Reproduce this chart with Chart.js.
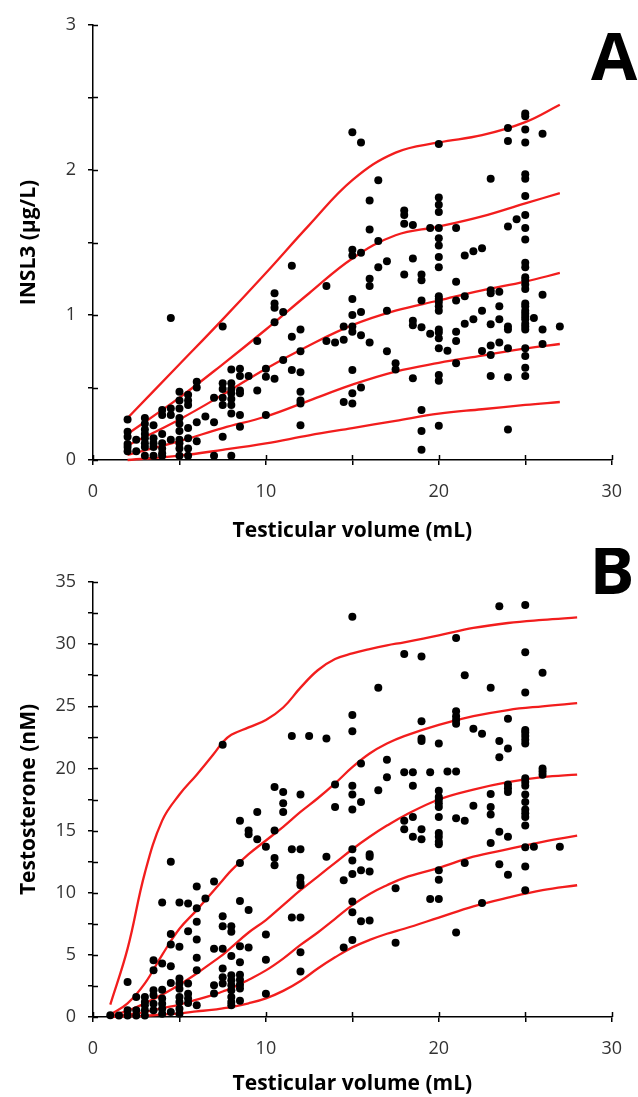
<!DOCTYPE html>
<html><head><meta charset="utf-8">
<script src="https://cdn.jsdelivr.net/npm/chart.js@4.4.0/dist/chart.umd.min.js"></script>
<style>
html,body{margin:0;padding:0;background:#fff;overflow:hidden;}
canvas{position:absolute;left:0;display:block;}
#cA{top:0;}
#cB{top:548px;}
</style></head><body>
<canvas id="cA" width="638" height="548"></canvas>
<canvas id="cB" width="638" height="549"></canvas>
<script>
// ---------------- Panel A: INSL3 vs testicular volume ----------------
const volumesA = [2, 2.5, 3, 3.5, 4, 4.5, 5, 5.5, 6, 6.5, 7, 7.5, 8, 8.5, 9, 9.5, 10, 10.5, 11, 11.5, 12, 13.5, 14, 14.5, 15, 15.5, 16, 16.5, 17, 17.5, 18, 18.5, 19, 19.5, 20, 20.5, 21, 21.5, 22, 22.5, 23, 23.5, 24, 24.5, 25, 25.5, 26, 27];
const insl3A = [
  [0.28, 0.195, 0.16, 0.11, 0.09, 0.06],
  [0.14, 0.06],
  [0.29, 0.25, 0.21, 0.18, 0.15, 0.115, 0.09, 0.03],
  [0.24, 0.15, 0.115, 0.09, 0.03],
  [0.345, 0.31, 0.18, 0.115, 0.08, 0.046, 0.03],
  [0.98, 0.356, 0.31, 0.14],
  [0.47, 0.41, 0.356, 0.29, 0.25, 0.2, 0.14, 0.115, 0.08, 0.03],
  [0.45, 0.41, 0.38, 0.22, 0.15, 0.08, 0.03],
  [0.54, 0.5, 0.26, 0.13],
  [0.3],
  [0.43, 0.26, 0.03],
  [0.92, 0.53, 0.49, 0.43, 0.38, 0.16],
  [0.625, 0.53, 0.49, 0.46, 0.42, 0.38, 0.32, 0.03],
  [0.63, 0.58, 0.48, 0.46, 0.31, 0.23],
  [0.58],
  [0.82, 0.48],
  [0.63, 0.575, 0.31],
  [1.15, 1.08, 1.05, 0.95, 0.56],
  [1.02, 0.69],
  [1.34, 0.85, 0.62],
  [0.9, 0.75, 0.605, 0.47, 0.41, 0.39, 0.24],
  [1.2, 0.82],
  [0.81],
  [0.92, 0.83, 0.4],
  [2.26, 1.45, 1.41, 1.11, 1.0, 0.92, 0.885, 0.62, 0.46, 0.39],
  [2.19, 1.43, 1.02, 0.86, 0.5],
  [1.79, 1.59, 1.25, 1.2, 0.81],
  [1.93, 1.51, 1.33],
  [1.37, 1.03, 0.75],
  [0.667, 0.625],
  [1.72, 1.69, 1.63, 1.28],
  [1.62, 1.39, 0.96, 0.93, 0.563],
  [1.28, 1.24, 1.1, 0.915, 0.345, 0.2, 0.07],
  [1.6, 0.87],
  [2.18, 1.81, 1.76, 1.71, 1.6, 1.53, 1.48, 1.4, 1.33, 1.13, 1.11, 1.09, 1.06, 1.03, 0.9, 0.88, 0.84, 0.77, 0.586, 0.547, 0.237],
  [0.754],
  [1.6, 1.23, 1.1, 0.885, 0.82, 0.667],
  [1.41, 1.13, 0.94],
  [1.44, 0.97],
  [1.46, 1.03, 0.752],
  [1.94, 1.17, 1.15, 0.936, 0.79, 0.724, 0.58],
  [1.16, 1.06, 0.97, 0.81],
  [2.29, 2.2, 1.61, 0.92, 0.9, 0.77, 0.57, 0.21],
  [1.66],
  [2.39, 2.37, 2.28, 2.19, 1.97, 1.94, 1.82, 1.69, 1.6, 1.52, 1.36, 1.33, 1.26, 1.24, 1.21, 1.18, 1.08, 1.06, 1.03, 1.01, 0.99, 0.97, 0.94, 0.92, 0.9, 0.77, 0.717, 0.637, 0.58],
  [0.98],
  [2.25, 1.14, 0.9, 0.8],
  [0.92]
];
const curveVolA = [2, 5, 7.5, 10, 12.5, 15, 17.5, 20, 22.5, 25, 27];
const insl3C1 = [0.29, 0.66, 0.97, 1.29, 1.62, 1.93, 2.12, 2.19, 2.24, 2.33, 2.45];
const insl3C2 = [0.18, 0.43, 0.66, 0.90, 1.15, 1.39, 1.55, 1.61, 1.68, 1.77, 1.84];
const insl3C3 = [0.10, 0.28, 0.45, 0.63, 0.79, 0.93, 1.03, 1.10, 1.17, 1.23, 1.29];
const insl3C4 = [0.035, 0.13, 0.22, 0.30, 0.41, 0.52, 0.61, 0.67, 0.72, 0.77, 0.80];
const insl3C5 = [0.0, 0.03, 0.07, 0.115, 0.17, 0.22, 0.27, 0.32, 0.35, 0.38, 0.40];
const yTicksA = [0, 1, 2, 3];

// ---------------- Panel B: Testosterone vs testicular volume ----------------
const volumesB = [1, 1.5, 2, 2.5, 3, 3.5, 4, 4.5, 5, 5.5, 6, 6.5, 7, 7.5, 8, 8.5, 9, 9.5, 10, 10.5, 11, 11.5, 12, 12.5, 13.5, 14, 14.5, 15, 15.5, 16, 16.5, 17, 17.5, 18, 18.5, 19, 19.5, 20, 20.5, 21, 21.5, 22, 22.5, 23, 23.5, 24, 25, 25.5, 26, 27];
const testoB = [
  [0.15],
  [0.13],
  [2.82, 0.54, 0.13],
  [1.61, 0.54, 0.13],
  [1.61, 1.21, 0.94, 0.54, 0.13],
  [4.57, 3.76, 2.15, 1.75, 1.07, 0.54],
  [9.22, 4.3, 2.2, 1.48, 1.07, 0.67, 0.27],
  [12.5, 6.67, 5.83, 4.09, 2.74, 0.4],
  [9.22, 5.65, 3.1, 2.7, 2.28, 1.61, 1.21, 0.67, 0.27],
  [9.14, 6.9, 2.7, 1.88, 1.48, 1.13],
  [10.5, 8.74, 7.66, 6.24, 4.76, 3.76, 0.94],
  [9.54],
  [10.9, 5.5, 2.55, 1.9],
  [21.9, 8.1, 7.3, 5.5, 3.9, 3.2, 2.7],
  [7.3, 6.85, 4.9, 3.36, 2.96, 2.55, 2.15, 1.61, 1.21, 0.94],
  [15.8, 12.4, 9.33, 5.7, 4.4, 3.4, 3.0, 2.6, 2.3, 1.3],
  [15.0, 14.7, 8.6, 5.6],
  [16.5, 14.3],
  [13.7, 6.64, 4.6, 1.87],
  [18.5, 15.0, 12.8, 12.2],
  [18.1, 17.2, 16.5],
  [22.6, 13.5, 8.0],
  [17.9, 13.5, 11.2, 10.8, 10.6, 8.0, 5.2, 3.67],
  [22.6],
  [22.4, 12.9],
  [18.7, 16.9],
  [11.0, 5.6],
  [32.2, 24.3, 23.0, 18.6, 17.9, 16.7, 13.5, 12.6, 11.5, 9.3, 8.43, 6.2],
  [20.4, 17.3, 11.8, 7.7],
  [13.1, 12.9, 11.7, 7.76],
  [26.5, 18.25],
  [20.7, 19.3],
  [10.36, 5.97],
  [29.2, 19.7, 15.8, 15.1],
  [19.7, 18.6, 16.1, 14.5],
  [29.0, 23.8, 22.4, 22.2, 15.1, 14.3],
  [19.7, 9.5],
  [22.0, 18.2, 17.7, 17.5, 17.2, 16.9, 16.1, 14.8, 14.5, 14.1, 13.9, 11.8, 11.05, 9.5],
  [19.75],
  [30.5, 24.6, 24.2, 23.9, 23.6, 19.75, 16.0, 6.8],
  [27.5, 15.8, 12.4],
  [23.2, 17.0],
  [22.8, 9.18],
  [26.5, 17.95, 16.9, 16.3, 14.0],
  [33.05, 22.2, 20.9, 14.9, 12.3],
  [24.0, 21.6, 18.7, 18.4, 18.1, 14.5, 11.45],
  [33.15, 29.35, 26.1, 23.1, 22.9, 22.6, 22.3, 22.0, 19.2, 18.9, 18.6, 17.9, 17.3, 16.7, 16.4, 16.1, 15.4, 13.65, 12.1, 10.2],
  [13.7],
  [27.7, 20.0, 19.75, 19.5],
  [13.7]
];
const curveVolB = [1, 2, 3, 4, 5, 6, 7, 7.5, 8, 9, 10, 11, 12, 13, 14, 15, 16, 17, 18, 20, 22, 24, 26, 28];
const testoC1 = [1.0, 5.5, 11.6, 15.8, 17.9, 19.5, 21.2, 22.1, 22.7, 23.3, 23.9, 24.9, 26.5, 27.9, 28.8, 29.25, 29.6, 29.9, 30.15, 30.7, 31.3, 31.7, 31.95, 32.15];
const testoC2 = [0.2, 1.1, 2.7, 5.0, 7.1, 8.6, 10.2, 11.0, 11.8, 13.1, 14.2, 15.3, 16.5, 17.6, 18.8, 20.1, 21.2, 22.0, 22.6, 23.5, 24.2, 24.7, 25.0, 25.25];
const testoC3 = [0.1, 0.5, 1.1, 1.8, 2.6, 3.5, 4.5, 5.0, 5.6, 6.8, 7.8, 9.0, 10.2, 11.3, 12.4, 13.5, 14.5, 15.4, 16.2, 17.5, 18.3, 18.9, 19.3, 19.5];
const testoC4 = [0.05, 0.2, 0.4, 0.7, 1.0, 1.4, 1.8, 2.05, 2.3, 3.0, 3.75, 4.7, 5.8, 6.8, 7.9, 9.0, 9.9, 10.6, 11.2, 12.0, 12.9, 13.5, 14.1, 14.6];
const testoC5 = [0.0, 0.05, 0.1, 0.2, 0.3, 0.45, 0.6, 0.7, 0.8, 1.1, 1.5, 2.1, 2.9, 3.9, 4.8, 5.6, 6.2, 6.7, 7.1, 8.0, 8.9, 9.6, 10.2, 10.6];
const yTicksB = [0, 5, 10, 15, 20, 25, 30, 35];
const xTicks = [0, 10, 20, 30];

// ---------------- helpers ----------------
const FONT = '"Open Sans", "DejaVu Sans", sans-serif';
const RED = '#f21d1d';

function flatten(vols, cols) {
  const pts = [];
  vols.forEach((v, i) => cols[i].forEach(y => pts.push({x: v, y: y})));
  return pts;
}
function curve(xs, ys) { return xs.map((x, i) => ({x: x, y: ys[i]})); }

function makeDatasets(points, cx, curves) {
  const ds = [{
    type: 'scatter', data: points, backgroundColor: '#000', borderWidth: 0,
    pointRadius: 4, pointHoverRadius: 4, clip: false
  }];
  curves.forEach(c => ds.push({
    type: 'line', data: curve(cx, c), borderColor: RED, borderWidth: 2.3,
    pointRadius: 0, fill: false, tension: 0.4, clip: false
  }));
  return ds;
}

function letterPlugin(letter, cx, baseY) {
  return {
    id: 'extra' + letter,
    afterDraw(chart) {
      const {ctx, chartArea, scales} = chart;
      const x = scales.x, y = scales.y;
      ctx.save();
      ctx.strokeStyle = '#000';
      ctx.lineWidth = 1.5;
      x.ticks.forEach(t => {
        const px = Math.round(x.getPixelForValue(t.value)) + 0.5;
        ctx.beginPath(); ctx.moveTo(px, chartArea.bottom); ctx.lineTo(px, chartArea.bottom - 5); ctx.stroke();
      });
      y.ticks.forEach(t => {
        const py = Math.round(y.getPixelForValue(t.value)) + 0.5;
        ctx.beginPath(); ctx.moveTo(chartArea.left, py); ctx.lineTo(chartArea.left + 5, py); ctx.stroke();
      });
      ctx.fillStyle = '#000';
      ctx.font = 'bold 67px ' + FONT;
      ctx.textAlign = 'center';
      ctx.textBaseline = 'alphabetic';
      ctx.fillText(letter, cx, baseY);
      ctx.restore();
    }
  };
}

function makeChart(id, cfg) {
  return new Chart(document.getElementById(id), {
    data: {datasets: makeDatasets(cfg.points, cfg.cx, cfg.curves)},
    options: {
      responsive: false, animation: false, events: [],
      layout: {padding: {top: cfg.padTop, right: 15, left: 0, bottom: 0}},
      plugins: {legend: {display: false}, tooltip: {enabled: false}},
      scales: {
        x: {
          type: 'linear', min: 0, max: 30,
          afterFit(s) { s.height = cfg.xH; },
          ticks: {stepSize: 5, autoSkip: false, maxRotation: 0, padding: 16, color: '#333',
                  font: {family: FONT, size: 18},
                  callback: v => xTicks.includes(v) ? String(v) : ''},
          grid: {display: true, drawOnChartArea: false, drawTicks: true, tickLength: 5, color: '#000', lineWidth: 1.5},
          border: {display: true, color: '#000', width: 1.5},
          title: {display: true, text: 'Testicular volume (mL)', color: '#000',
                  font: {family: FONT, size: 21, weight: 'bold'}, padding: {top: 0, bottom: cfg.xTitlePad}}
        },
        y: {
          type: 'linear', min: 0, max: cfg.yMax,
          afterFit(s) { s.width = 93; },
          ticks: {stepSize: cfg.yStep, autoSkip: false, padding: 12, color: '#333',
                  font: {family: FONT, size: 18},
                  callback: v => cfg.yLabels.includes(v) ? String(v) : ''},
          grid: {display: true, drawOnChartArea: false, drawTicks: true, tickLength: 5, color: '#000', lineWidth: 1.5},
          border: {display: true, color: '#000', width: 1.5},
          title: {display: true, text: cfg.yTitle, color: '#000',
                  font: {family: FONT, size: 21, weight: 'bold'}, padding: {top: 16, bottom: 0}}
        }
      }
    },
    plugins: [letterPlugin(cfg.letter, cfg.letterX, cfg.letterY)]
  });
}

makeChart('cA', {
  points: flatten(volumesA, insl3A), cx: curveVolA,
  curves: [insl3C1, insl3C2, insl3C3, insl3C4, insl3C5],
  padTop: 25, xH: 88, xTitlePad: 4, yMax: 3, yStep: 0.5, yLabels: yTicksA,
  yTitle: 'INSL3 (µg/L)', letter: 'A', letterX: 614, letterY: 80
});
makeChart('cB', {
  points: flatten(volumesB, testoB), cx: curveVolB,
  curves: [testoC1, testoC2, testoC3, testoC4, testoC5],
  padTop: 34, xH: 80, xTitlePad: 0, yMax: 35, yStep: 2.5, yLabels: yTicksB,
  yTitle: 'Testosterone (nM)', letter: 'B', letterX: 612, letterY: 46
});
</script>
</body></html>
